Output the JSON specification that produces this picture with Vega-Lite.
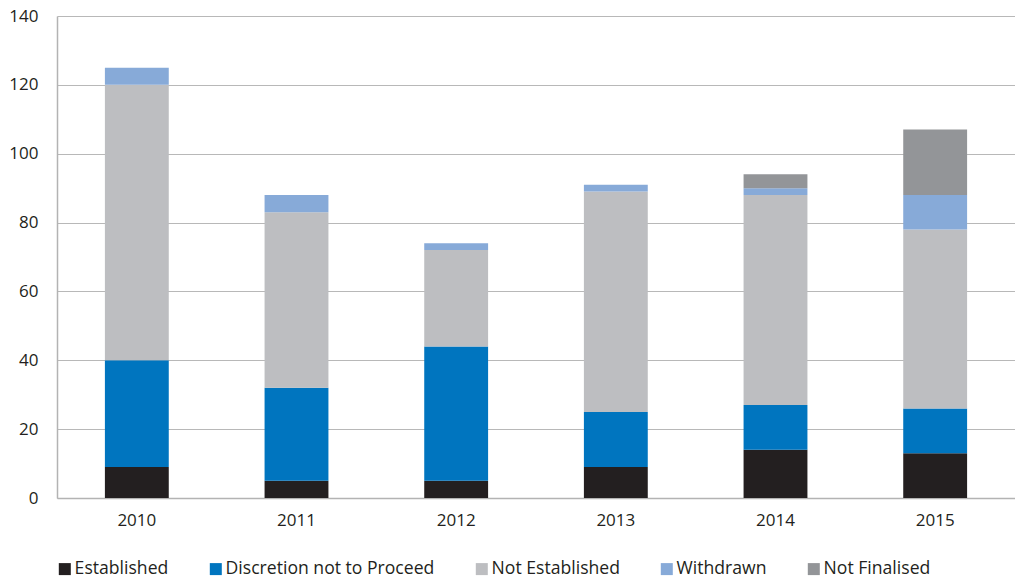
{
  "$schema": "https://vega.github.io/schema/vega-lite/v6.json",
  "width": 958,
  "height": 482,
  "autosize": {"type": "none"},
  "padding": {"left": 57, "top": 16, "right": 0, "bottom": 81},
  "background": "white",
  "config": {
    "font": "Open Sans",
    "view": {"stroke": null},
    "axis": {"labelFont": "Open Sans", "labelFontSize": 17, "labelColor": "#231f20", "title": null}
  },
  "data": {
    "values": [
      {"Year": "2010", "Outcome": "Established", "Count": 9},
      {"Year": "2010", "Outcome": "Discretion not to Proceed", "Count": 31},
      {"Year": "2010", "Outcome": "Not Established", "Count": 80},
      {"Year": "2010", "Outcome": "Withdrawn", "Count": 5},
      {"Year": "2011", "Outcome": "Established", "Count": 5},
      {"Year": "2011", "Outcome": "Discretion not to Proceed", "Count": 27},
      {"Year": "2011", "Outcome": "Not Established", "Count": 51},
      {"Year": "2011", "Outcome": "Withdrawn", "Count": 5},
      {"Year": "2012", "Outcome": "Established", "Count": 5},
      {"Year": "2012", "Outcome": "Discretion not to Proceed", "Count": 39},
      {"Year": "2012", "Outcome": "Not Established", "Count": 28},
      {"Year": "2012", "Outcome": "Withdrawn", "Count": 2},
      {"Year": "2013", "Outcome": "Established", "Count": 9},
      {"Year": "2013", "Outcome": "Discretion not to Proceed", "Count": 16},
      {"Year": "2013", "Outcome": "Not Established", "Count": 64},
      {"Year": "2013", "Outcome": "Withdrawn", "Count": 2},
      {"Year": "2014", "Outcome": "Established", "Count": 14},
      {"Year": "2014", "Outcome": "Discretion not to Proceed", "Count": 13},
      {"Year": "2014", "Outcome": "Not Established", "Count": 61},
      {"Year": "2014", "Outcome": "Withdrawn", "Count": 2},
      {"Year": "2014", "Outcome": "Not Finalised", "Count": 4},
      {"Year": "2015", "Outcome": "Established", "Count": 13},
      {"Year": "2015", "Outcome": "Discretion not to Proceed", "Count": 13},
      {"Year": "2015", "Outcome": "Not Established", "Count": 52},
      {"Year": "2015", "Outcome": "Withdrawn", "Count": 10},
      {"Year": "2015", "Outcome": "Not Finalised", "Count": 19}
    ]
  },
  "transform": [
    {"calculate": "indexof(['Established', 'Discretion not to Proceed', 'Not Established', 'Withdrawn', 'Not Finalised'], datum.Outcome)", "as": "StackRank"}
  ],
  "mark": {"type": "bar"},
  "encoding": {
    "x": {
      "field": "Year",
      "type": "nominal",
      "scale": {"paddingInner": 0.6, "paddingOuter": 0.3},
      "axis": {"labelAngle": 0, "ticks": false, "domainColor": "#b3b3b3", "domainWidth": 1.5, "labelPadding": 14}
    },
    "y": {
      "field": "Count",
      "type": "quantitative",
      "scale": {"domain": [0, 140], "nice": false},
      "axis": {"values": [0, 20, 40, 60, 80, 100, 120, 140], "ticks": false, "domainColor": "#b3b3b3", "domainWidth": 1.5, "gridColor": "#b8b8b8", "gridWidth": 1.2, "labelPadding": 19}
    },
    "order": {"field": "StackRank", "type": "quantitative", "sort": "ascending"},
    "color": {
      "field": "Outcome",
      "type": "nominal",
      "sort": ["Established", "Discretion not to Proceed", "Not Established", "Withdrawn", "Not Finalised"],
      "scale": {
        "domain": ["Established", "Discretion not to Proceed", "Not Established", "Withdrawn", "Not Finalised"],
        "range": ["#231f20", "#0075bf", "#bdbec1", "#87aad8", "#939598"]
      },
      "legend": {
        "title": null,
        "orient": "none",
        "direction": "horizontal",
        "legendX": -1,
        "legendY": 544,
        "padding": 0,
        "symbolType": "square",
        "symbolSize": 144,
        "symbolStrokeWidth": 0,
        "symbolOpacity": 1,
        "labelFont": "Open Sans",
        "labelFontSize": 17.6,
        "labelColor": "#231f20",
        "labelOffset": 1,
        "columnPadding": 38,
        "labelLimit": 400
      }
    }
  }
}
